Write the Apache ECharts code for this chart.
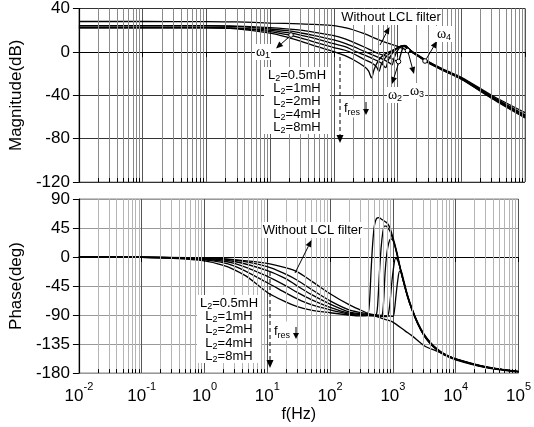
<!DOCTYPE html>
<html>
<head>
<meta charset="utf-8">
<script src="https://cdn.jsdelivr.net/npm/echarts@6/dist/echarts.min.js"></script>
<style>
  html, body { margin: 0; padding: 0; background: #fff; }
  #chart { width: 534px; height: 427px; }
</style>
</head>
<body>
<div id="chart"></div>
<script>
// magnitude (dB), f in Hz
const magF_W = [0.01, 0.1, 1, 3, 10, 30, 50, 100, 150, 200, 300, 500, 700, 1000, 1500, 2000, 3000, 5000, 10000, 30000, 100000]
const mag_W = [28, 28, 27.9, 27.6, 26.6, 25.8, 25.3, 24.2, 22.3, 20.4, 16.8, 11.3, 8, 5, 0.8, -2.2, -8.8, -15.5, -23.5, -40, -56]

const magF_05 = [0.01, 1, 3, 10, 20, 30, 50, 100, 150, 200, 300, 500, 700, 900, 980, 1030, 1100, 1180, 1250, 1350, 1500, 1700, 2000, 3000, 5000, 10000, 30000, 100000]
const mag_05 = [24.2, 24.2, 23.8, 22.3, 21, 20, 18, 15, 12, 9, 4.5, -1.5, -4.5, -7.5, -9, -10, -4, 2, 6, 5.8, 3, 0.3, -2.5, -9, -15.8, -24, -41, -58]

const magF_1 = [0.01, 1, 3, 10, 20, 30, 50, 100, 150, 200, 300, 500, 650, 760, 820, 880, 950, 1050, 1150, 1300, 1500, 1700, 2000, 3000, 5000, 10000, 30000, 100000]
const mag_1 = [24, 24, 23.3, 21.1, 19.3, 17.5, 15, 11, 7.9, 5, 0.5, -5, -8, -10.5, -12, -6, -1, 3, 5.5, 5.8, 3, 0.2, -2.7, -9.3, -16, -24.3, -41.5, -58.8]

const magF_2 = [0.01, 1, 3, 10, 20, 30, 50, 100, 150, 200, 300, 450, 560, 650, 710, 800, 900, 1050, 1200, 1350, 1500, 1700, 2000, 3000, 5000, 10000, 30000, 100000]
const mag_2 = [22.5, 22.5, 21.8, 19.9, 17.5, 15.5, 12.5, 7.5, 4.9, 1.5, -2.8, -7.5, -10.5, -14.5, -8, -2.5, 1, 4.5, 5.6, 5, 2.8, 0, -2.9, -9.5, -16.3, -24.7, -42, -59.5]

const magF_4 = [0.01, 1, 3, 10, 20, 30, 50, 100, 150, 200, 300, 400, 470, 510, 560, 650, 800, 950, 1100, 1250, 1450, 1700, 2000, 3000, 5000, 10000, 30000, 100000]
const mag_4 = [22.3, 22.3, 21.6, 18.7, 15.5, 13, 9, 4, 1.5, -1.5, -7, -10.5, -14, -18, -11, -5, 0, 3, 5, 5.5, 3, -0.3, -3, -9.7, -16.5, -25, -42.5, -60.2]

const magF_8 = [0.01, 1, 3, 10, 20, 30, 50, 100, 150, 200, 300, 350, 390, 430, 500, 600, 770, 950, 1100, 1250, 1450, 1700, 2000, 3000, 5000, 10000, 30000, 100000]
const mag_8 = [22.2, 22.2, 21.2, 17.2, 13, 10, 5.5, 0.3, -3.5, -7, -13.5, -17.5, -24, -16, -8, -3, 0.5, 3, 4.7, 5.2, 2.8, -0.5, -3.1, -9.9, -16.7, -25.3, -43, -61]

// phase (deg)
const phF_W = [0.01, 0.1, 1, 3, 10, 20, 30, 50, 100, 200, 300, 440, 770, 1000, 1580, 2000, 3200, 5000, 6400, 10000, 30000, 100000]
const ph_W = [0, -0.3, -1.5, -4, -10, -17, -23, -37, -57, -74, -82, -89, -97, -101, -115, -122, -138, -146, -151, -158, -170, -177.5]

const phF_05 = [0.01, 0.1, 1, 3, 10, 20, 30, 50, 100, 200, 300, 500, 800, 1000, 1060, 1120, 1200, 1280, 1350, 1450, 1700, 2000, 2500, 3100, 4000, 5000, 6300, 10000, 30000, 100000]
const ph_05 = [0, -0.2, -2, -5, -15, -27, -36, -50, -68, -82, -86, -89.5, -91.5, -92, -82, -60, -35, -22, -22, -32, -58, -79, -102, -119, -133, -142, -149, -158, -170.5, -178]

const phF_1 = [0.01, 0.1, 1, 3, 10, 20, 30, 50, 100, 200, 300, 500, 800, 850, 900, 960, 1030, 1100, 1160, 1280, 1400, 1700, 2000, 2500, 3100, 4000, 5000, 6300, 10000, 30000, 100000]
const ph_1 = [0, -0.3, -2.5, -7, -21, -34, -45, -58, -73, -85, -88, -90.5, -92.5, -88, -70, -40, -15, -2, -3, -14, -29, -59, -80, -103, -120, -134, -143, -150, -158.5, -171, -178]

const phF_2 = [0.01, 0.1, 1, 3, 10, 20, 30, 50, 100, 200, 300, 500, 650, 690, 720, 750, 800, 860, 927, 1000, 1060, 1160, 1280, 1400, 1700, 2000, 2500, 3100, 4000, 5000, 6300, 10000, 30000, 100000]
const ph_2 = [0, -0.4, -3.5, -10, -30, -45, -55, -66, -78, -87, -89, -91, -92, -85, -60, -25, 5, 22, 28, 26, 20, 5, -14, -30, -60, -80.5, -103.5, -120.5, -134.5, -143, -150, -158.5, -171, -178]

const phF_4 = [0.01, 0.1, 1, 3, 10, 20, 30, 50, 100, 200, 300, 500, 550, 580, 610, 650, 690, 733, 780, 820, 900, 970, 1060, 1160, 1280, 1400, 1700, 2000, 2500, 3100, 4000, 5000, 6300, 10000, 30000, 100000]
const ph_4 = [0, -0.5, -4.5, -14, -40, -56, -65, -74, -82, -88.5, -90, -91.5, -88, -65, -25, 15, 38, 48, 48, 46, 40, 31, 19, 4, -14, -30, -60.5, -81, -104, -121, -135, -143.5, -150.5, -159, -171, -178]

const phF_8 = [0.01, 0.1, 0.3, 1, 2, 3, 5, 10, 20, 30, 50, 100, 200, 300, 380, 410, 430, 450, 480, 510, 550, 600, 650, 750, 820, 900, 970, 1060, 1160, 1280, 1400, 1700, 2000, 2500, 3100, 4000, 5000, 6300, 10000, 30000, 100000]
const ph_8 = [0, -0.6, -2, -6, -13, -20, -32, -55, -70, -77, -82.5, -86.5, -90, -91.5, -91, -84, -60, -20, 25, 50, 60, 61, 59, 55, 52, 45, 35, 22, 7, -12, -29, -61, -81.5, -104.5, -121.5, -135.5, -144, -151, -159.5, -171.5, -178.5]

// axes
const xMin = 0.01
const xMax = 100000
const decades = [-2, -1, 0, 1, 2, 3, 4]
const minorSteps = [2, 3, 4, 5, 6, 7, 8, 9]
const L2names = ['0.5mH', '1mH', '2mH', '4mH', '8mH']

const FONT = 'Liberation Sans, Arial, sans-serif'

const chart = echarts.init(document.getElementById('chart'))

function pts(fs, vs) {
  return fs.map((f, i) => [f, vs[i]])
}

const minorPos = []
decades.forEach(d => minorSteps.forEach(m => minorPos.push(+(m * Math.pow(10, d)).toPrecision(3))))

// minor gridlines + inward minor ticks, drawn as markLines under the curves
function gridSeries(idx, yLow, tickLen, color) {
  const lines = minorPos.map(v => ({xAxis: v, lineStyle: {color, width: 1, type: 'solid'}}))
  const ticks = minorPos.map(v => [
    {coord: [v, yLow], lineStyle: {color: '#000', width: 1, type: 'solid'}},
    {coord: [v, yLow + tickLen]},
  ])
  return {
    type: 'line',
    xAxisIndex: idx,
    yAxisIndex: idx,
    data: [[1, yLow + tickLen * 3]],
    showSymbol: false,
    lineStyle: {width: 0},
    silent: true,
    z: 1,
    markLine: {
      silent: true,
      symbol: ['none', 'none'],
      label: {show: false},
      animation: false,
      data: lines.concat(ticks),
    },
  }
}

function curve(idx, data) {
  return {
    type: 'line',
    xAxisIndex: idx,
    yAxisIndex: idx,
    data,
    showSymbol: false,
    smooth: 0.3,
    lineStyle: {color: '#000', width: 1.3},
    z: 3,
  }
}

function xAxis(idx, showLabel) {
  return {
    gridIndex: idx,
    type: 'log',
    logBase: 10,
    min: xMin,
    max: xMax,
    splitNumber: 7,
    axisLine: {lineStyle: {color: '#000', width: 1.2}},
    axisTick: {show: true, inside: false, length: 5, lineStyle: {color: '#000'}},
    splitLine: {show: true, lineStyle: {color: '#555', width: 1}},
    axisLabel: {
      show: showLabel,
      margin: 8,
      formatter: v => '{b|10}{s|' + Math.round(Math.log10(v)) + '}',
      rich: {
        b: {fontSize: 17, fontFamily: FONT, color: '#000', lineHeight: 24, verticalAlign: 'bottom'},
        s: {fontSize: 11, fontFamily: FONT, color: '#000', lineHeight: 24, verticalAlign: 'top'},
      },
    },
    name: showLabel ? 'f(Hz)' : '',
    nameLocation: 'middle',
    nameGap: 34,
    nameTextStyle: {fontSize: 16, color: '#000', fontFamily: FONT},
  }
}

function yAxis(idx, min, max, interval, name, splitColor) {
  return {
    gridIndex: idx,
    type: 'value',
    min, max, interval,
    axisLine: {show: true, lineStyle: {color: '#000', width: 1.2}},
    axisTick: {show: true, inside: false, length: 6, lineStyle: {color: '#000'}},
    axisLabel: {fontSize: 17, color: '#000', margin: 9, fontFamily: FONT},
    splitLine: {show: true, lineStyle: {color: splitColor, width: 1}},
    name,
    nameLocation: 'middle',
    nameGap: 40,
    nameTextStyle: {fontSize: 17, color: '#000', fontFamily: FONT},
  }
}

// ---- annotation helpers (pixel positions) ----
function seg(x1, y1, x2, y2, dash) {
  return {type: 'line', z: 100, shape: {x1, y1, x2, y2}, style: {stroke: '#000', lineWidth: 1, lineDash: dash ? [4, 3] : null}}
}
function arrow(x1, y1, x2, y2, dash, L = 7, W = 3) {
  const a = Math.atan2(y2 - y1, x2 - x1)
  const bx = x2 - L * Math.cos(a), by = y2 - L * Math.sin(a)
  const head = {
    type: 'polygon', z: 100,
    shape: {points: [[x2, y2], [bx + W * Math.sin(a), by - W * Math.cos(a)], [bx - W * Math.sin(a), by + W * Math.cos(a)]]},
    style: {fill: '#000'},
  }
  return [seg(x1, y1, bx, by, dash), head]
}
function dot(cx, cy) {
  return {type: 'circle', z: 100, shape: {cx, cy, r: 2.3}, style: {fill: '#fff', stroke: '#000', lineWidth: 1}}
}
const annoRich = {
  a: {fontSize: 13, fontFamily: FONT, lineHeight: 16, verticalAlign: 'middle', fill: '#000', color: '#000'},
  s: {fontSize: 9, fontFamily: FONT, lineHeight: 9, verticalAlign: 'bottom', fill: '#000', color: '#000'},
  w: {fontSize: 14, fontFamily: 'Liberation Serif', lineHeight: 16, verticalAlign: 'middle', fill: '#000', color: '#000'},
  f: {fontSize: 13, fontFamily: FONT, lineHeight: 19, verticalAlign: 'middle', fill: '#000', color: '#000'},
}
function label(x, y, text, align = 'center', bg = '#fff') {
  return {
    type: 'text', z: 101,
    style: {
      x, y, text, rich: annoRich,
      align, verticalAlign: 'middle', textAlign: align, textVerticalAlign: 'middle',
      font: '13px ' + FONT, fill: '#000',
      backgroundColor: bg, padding: [0, 1],
    },
  }
}
function box(x, y, w, h) {
  return {type: 'rect', z: 100, shape: {x, y, width: w, height: h}, style: {fill: '#fff'}}
}
function l2Block(cx, ys) {
  return L2names.map((n, i) => label(cx, ys[i], '{a|L}{s|2}{a|=' + n + '}', 'center', null))
}

const graphics = [
  // magnitude plot
  label(391, 17, '{a|Without LCL filter}'),
  ...arrow(380, 45, 389.5, 27),
  box(264, 67, 66, 67),
  ...l2Block(297, [75.5, 88.5, 101.5, 114.5, 127.5]),
  label(263, 52, '{w|ω}{s|1}'),
  dot(291, 35), ...arrow(289, 37, 276, 48.5),
  label(395, 95, '{w|ω}{s|2}'),
  dot(398.5, 61.5), ...arrow(398.3, 64, 392, 84),
  label(417, 91, '{w|ω}{s|3}'),
  dot(407.5, 50.5), ...arrow(408.3, 53, 414, 74),
  label(444, 34, '{w|ω}{s|4}'),
  dot(425, 61), ...arrow(426.4, 58.8, 437, 41),
  ...arrow(340, 57, 340, 143, true, 8, 3.5),
  label(343, 108, '{f|f}{s|res}', 'left'),
  ...arrow(366, 102, 366, 115, false, 6, 3),
  // phase plot
  label(312.5, 230, '{a|Without LCL filter}'),
  ...arrow(295, 273, 311.5, 240),
  box(197, 295, 64, 68),
  ...l2Block(229, [303, 316.5, 329.5, 343, 356]),
  ...arrow(270, 272, 270, 368, true, 8, 3.5),
  label(273, 331, '{f|f}{s|res}', 'left'),
  ...arrow(296, 327, 296, 339, false, 6, 3),
]

const option = {
  animation: false,
  backgroundColor: '#fff',
  grid: [
    {left: 66, right: 9, top: 7, height: 175, show: true, borderColor: '#888', borderWidth: 1},
    {left: 66, right: 9, top: 199, height: 174, show: true, borderColor: '#888', borderWidth: 1},
  ],
  xAxis: [xAxis(0, false), xAxis(1, true)],
  yAxis: [
    yAxis(0, -120, 40, 40, 'Magnitude(dB)', '#333'),
    yAxis(1, -180, 90, 45, 'Phase(deg)', '#999'),
  ],
  series: [
    gridSeries(0, -120, 3.7, '#8a8a8a'),
    gridSeries(1, -180, 6, '#b5b5b5'),
    curve(0, pts(magF_W, mag_W)),
    curve(0, pts(magF_05, mag_05)),
    curve(0, pts(magF_1, mag_1)),
    curve(0, pts(magF_2, mag_2)),
    curve(0, pts(magF_4, mag_4)),
    curve(0, pts(magF_8, mag_8)),
    curve(1, pts(phF_W, ph_W)),
    curve(1, pts(phF_05, ph_05)),
    curve(1, pts(phF_1, ph_1)),
    curve(1, pts(phF_2, ph_2)),
    curve(1, pts(phF_4, ph_4)),
    curve(1, pts(phF_8, ph_8)),
  ],
  graphic: graphics,
}

chart.setOption(option)
</script>
</body>
</html>
